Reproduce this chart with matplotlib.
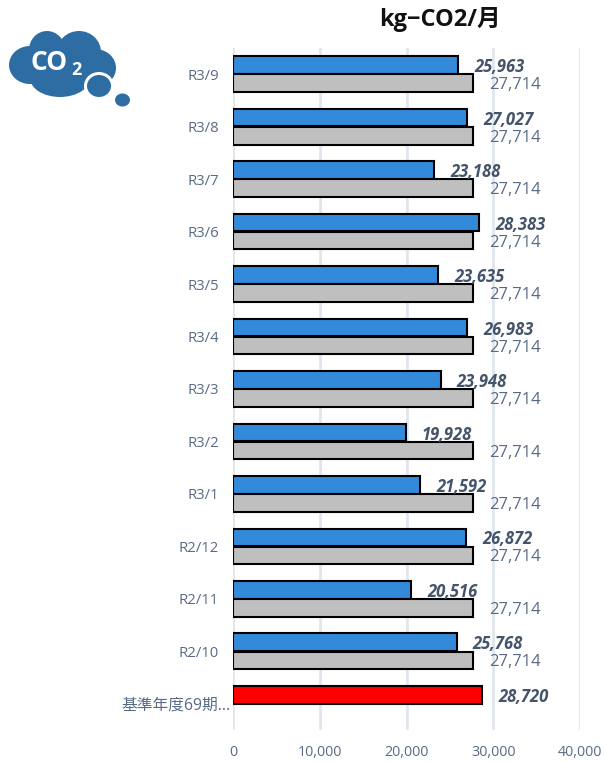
import matplotlib
matplotlib.use("Agg")
from matplotlib import pyplot as plt
from matplotlib.patches import Ellipse

plt.rcParams['font.family'] = ['Open Sans', 'Noto Sans CJK JP', 'DejaVu Sans']

W, H = 604, 762

months = ["R3/9", "R3/8", "R3/7", "R3/6", "R3/5", "R3/4", "R3/3", "R3/2", "R3/1",
          "R2/12", "R2/11", "R2/10"]
base_label = "基準年度69期..."
actual = [25963, 27027, 23188, 28383, 23635, 26983, 23948, 19928, 21592,
          26872, 20516, 25768]
target = [27714] * 12
base_value = [28720]
xticks = [0, 10000, 20000, 30000, 40000]

text_col = "#596A85"
label_col = "#44546A"

fig = plt.figure(figsize=(W / 100, H / 100), dpi=100)
ax = fig.add_axes([233 / W, 1 - 730 / H, 347 / W, 682 / H])

offset = 0.172
height = 0.335
ys = list(range(len(months)))

blue = ax.barh([y - offset for y in ys], actual, height=height, color="#338ADB",
               edgecolor="black", linewidth=1.5, zorder=3)
grey = ax.barh([y + offset for y in ys], target, height=height, color="#BFBFBF",
               edgecolor="black", linewidth=1.5, zorder=3)
red = ax.barh([len(months) - offset], base_value, height=height, color="#FF0000",
              edgecolor="black", linewidth=1.5, zorder=3)

labels = []
for bars in (blue, red):
    labels += ax.bar_label(bars, fmt="{:,.0f}", padding=11.5, fontsize=12, color=label_col,
                           fontweight="bold", fontstyle="italic")
labels += ax.bar_label(grey, fmt="{:,.0f}", padding=11.5, fontsize=12, color=text_col)
# labels sit a little lower than the bar centres
for lab in labels:
    lab.xyann = (lab.xyann[0], -1.5)

ax.set_xlim(0, 40000)
ax.set_ylim(len(months) + 0.5, -0.5)
ax.set_xticks(xticks)
ax.set_xticklabels([f"{t:,}" for t in xticks])
ax.set_yticks(ys + [len(months)])
ax.set_yticklabels(months + [base_label])
ax.tick_params(axis="x", length=0, labelsize=10.3, labelcolor=text_col, pad=11)
ax.tick_params(axis="y", length=0, labelsize=10.7, labelcolor=text_col)
for tick in ax.yaxis.get_major_ticks()[:-1]:
    tick.set_pad(10)
last = ax.yaxis.get_major_ticks()[-1]
last.set_pad(2)
last.label1.set_fontsize(11.3)
ax.grid(axis="x", color="#E1E6EE", linewidth=2, zorder=0)
ax.set_axisbelow(True)
for s in ax.spines.values():
    s.set_visible(False)

fig.text(440 / W, 1 - 20 / H, "kg−CO2/月", fontsize=17, fontweight="bold",
         color="#111111", ha="center", va="center")

# co2 cloud icon, in pixel coordinates
icon = fig.add_axes([0, 0, 1, 1], zorder=5)
icon.set_xlim(0, W)
icon.set_ylim(H, 0)
icon.axis("off")
cloud = "#2E6DA4"
for cx, cy, w, h in [(30, 65, 42, 38), (47, 50, 36, 38), (79, 52, 44, 42),
                     (95, 68, 42, 38), (60, 78, 60, 38), (55, 65, 70, 40)]:
    icon.add_patch(Ellipse((cx, cy), w, h, color=cloud, lw=0))
icon.add_patch(Ellipse((99, 86), 30, 28, color="white", lw=0))
icon.add_patch(Ellipse((99, 86), 24, 22, color=cloud, lw=0))
icon.add_patch(Ellipse((122.5, 100), 15, 13, color=cloud, lw=0))
icon.text(49, 63, "CO", color="white", fontsize=19, fontweight="bold",
          ha="center", va="center")
icon.text(76, 70, "2", color="white", fontsize=13, fontweight="bold",
          ha="center", va="center")

fig.savefig("out.png", dpi=100)
